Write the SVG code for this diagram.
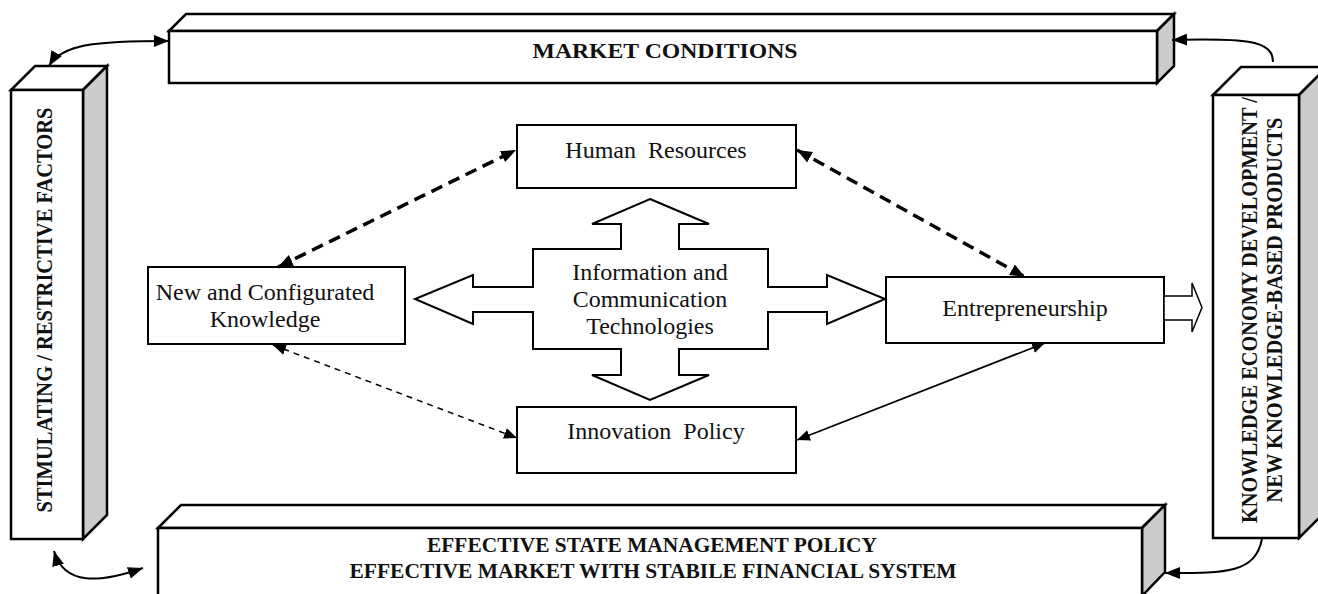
<svg xmlns="http://www.w3.org/2000/svg" width="1318" height="594" viewBox="0 0 1318 594">
<style>
.bg{fill:#fff}
.box{fill:#fff;stroke:#000;stroke-width:2}
.bar{fill:#fff;stroke:#000;stroke-width:2.5;stroke-linejoin:miter}
.side{fill:#cccccc;stroke:#000;stroke-width:2.5}
.t{font-family:"Liberation Serif","Times New Roman",serif;font-size:24px;fill:#111;text-anchor:middle}
.b{font-family:"Liberation Serif","Times New Roman",serif;font-weight:bold;fill:#111;text-anchor:middle}
.thick{fill:none;stroke:#000;stroke-width:3.5;stroke-dasharray:12 7}
.thin{fill:none;stroke:#000;stroke-width:1.5;stroke-dasharray:6 5}
.solid{fill:none;stroke:#000;stroke-width:1.8}
.curve{fill:none;stroke:#000;stroke-width:2}
</style>
<defs>
<marker id="ah" markerUnits="userSpaceOnUse" markerWidth="16" markerHeight="12" refX="15" refY="6" orient="auto-start-reverse">
<path d="M0,0 L15,6 L0,12 z" fill="#000"/>
</marker>
<marker id="ahs" markerUnits="userSpaceOnUse" markerWidth="14" markerHeight="11" refX="13" refY="5.5" orient="auto-start-reverse">
<path d="M0,0 L13,5.5 L0,11 z" fill="#000"/>
</marker>
</defs>
<rect class="bg" x="0" y="0" width="1318" height="594"/>

<g id="market-conditions">
<polygon class="bar" points="169,31 186,14 1174,14 1157,31"/>
<polygon class="side" points="1157,31 1174,14 1174,66 1157,83"/>
<rect class="bar" x="169" y="31" width="988" height="52"/>
<text class="b" x="665" y="58" font-size="22" textLength="265" lengthAdjust="spacingAndGlyphs">MARKET CONDITIONS</text>
</g>

<g id="stimulating-factors">
<polygon class="bar" points="11,90 35,66 107,66 83,90"/>
<polygon class="side" points="83,90 107,66 107,515 83,539"/>
<rect class="bar" x="11" y="90" width="72" height="449"/>
<text class="b" x="52" y="310" font-size="24" transform="rotate(-90 52 310)" textLength="405" lengthAdjust="spacingAndGlyphs">STIMULATING / RESTRICTIVE FACTORS</text>
</g>

<g id="knowledge-economy">
<polygon class="bar" points="1213,95 1241,67 1327,67 1299,95"/>
<polygon class="side" points="1299,95 1327,67 1327,510 1299,538"/>
<rect class="bar" x="1213" y="95" width="86" height="443"/>
<text class="b" x="1257" y="310" font-size="24" transform="rotate(-90 1257 310)" textLength="426" lengthAdjust="spacingAndGlyphs">KNOWLEDGE ECONOMY DEVELOPMENT /</text>
<text class="b" x="1282" y="310" font-size="24" transform="rotate(-90 1282 310)" textLength="385" lengthAdjust="spacingAndGlyphs">NEW KNOWLEDGE-BASED PRODUCTS</text>
</g>

<g id="state-policy">
<polygon class="bar" points="158,528 181,505 1165,505 1142,528"/>
<polygon class="side" points="1142,528 1165,505 1165,572 1142,596"/>
<rect class="bar" x="158" y="528" width="984" height="70"/>
<text class="b" x="652" y="552" font-size="21" textLength="450" lengthAdjust="spacingAndGlyphs">EFFECTIVE STATE MANAGEMENT POLICY</text>
<text class="b" x="653" y="578" font-size="21" textLength="607" lengthAdjust="spacingAndGlyphs">EFFECTIVE MARKET WITH STABILE FINANCIAL SYSTEM</text>
</g>

<g id="human-resources">
<rect class="box" x="517" y="125" width="279" height="63"/>
<text class="t" x="656" y="158" xml:space="preserve">Human  Resources</text>
</g>

<g id="innovation-policy">
<rect class="box" x="517" y="407" width="279" height="66"/>
<text class="t" x="656" y="439" xml:space="preserve">Innovation  Policy</text>
</g>

<g id="new-knowledge">
<rect class="box" x="148" y="267" width="257" height="77"/>
<text class="t" x="265" y="300">New and Configurated</text>
<text class="t" x="265" y="327">Knowledge</text>
</g>

<g id="entrepreneurship">
<rect class="box" x="886" y="277" width="278" height="66"/>
<text class="t" x="1025" y="316">Entrepreneurship</text>
<polygon points="1164,296 1192,296 1192,283 1202,307.5 1192,332 1192,320 1164,320" fill="#fff" stroke="#000" stroke-width="1.5"/>
</g>

<g id="ict">
<polygon class="box" points="650,199 709,224 679,224 679,249 768,249 768,287 827,287 827,275 885,299 827,324 827,312 768,312 768,349 679,349 679,375 709,375 650,400 592,375 621,375 621,349 533,349 533,312 473,312 473,324 415,299 473,275 473,287 533,287 533,249 621,249 621,224 592,224"/>
<text class="t" x="650" y="280">Information and</text>
<text class="t" x="650" y="307">Communication</text>
<text class="t" x="650" y="334">Technologies</text>
</g>

<g id="connectors">
<path class="thick" d="M278,267 L516,150" marker-start="url(#ah)" marker-end="url(#ah)"/>
<path class="thick" d="M797,150 L1025,277" marker-start="url(#ah)" marker-end="url(#ah)"/>
<path class="thin" d="M273,345 L517,438" marker-start="url(#ahs)" marker-end="url(#ahs)"/>
<path class="solid" d="M797,440 L1045,343" marker-start="url(#ahs)" marker-end="url(#ahs)"/>
<path class="curve" d="M49,66 C62,44 95,41 169,41" marker-start="url(#ah)" marker-end="url(#ah)"/>
<path class="curve" d="M1273,62 C1273,40 1245,38 1172,40" marker-end="url(#ah)"/>
<path class="curve" d="M1262,539 C1255,574 1225,573 1165,573" marker-end="url(#ah)"/>
<path class="curve" d="M54,551 C64,586 100,583 143,568" marker-start="url(#ah)" marker-end="url(#ah)"/>
</g>
</svg>
